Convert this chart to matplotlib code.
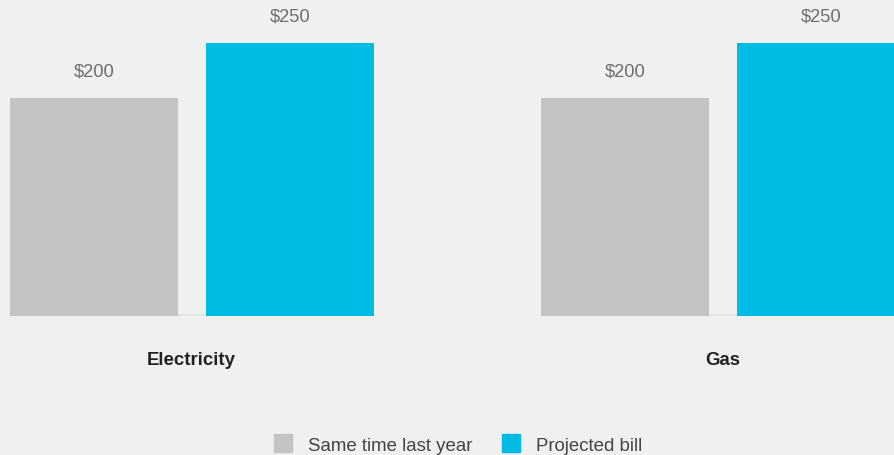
import matplotlib
matplotlib.use("Agg")
import matplotlib.pyplot as plt
from matplotlib.lines import Line2D
import numpy as np

categories = ["Electricity", "Gas"]
series_names = ["Same time last year", "Projected bill"]
last_year = [200, 200]
projected = [250, 250]
value_labels_last = ["$200", "$200"]
value_labels_proj = ["$250", "$250"]

bg = "#f0f0f0"
c_gray = "#c3c3c3"
c_cyan = "#00bbe3"

W, H = 895, 456
fig = plt.figure(figsize=(W / 100, H / 100), dpi=100, facecolor=bg)
plt.rcParams['font.family'] = ['Liberation Sans', 'DejaVu Sans']

base = 317
ax = fig.add_axes([0, 1 - base / H, 1, base / H])
ax.set_facecolor(bg)
for s in ax.spines.values():
    s.set_visible(False)
ax.set_xticks([])
ax.set_yticks([])

x = np.arange(len(categories))
w = 168 / 531
off = 0.1845
ax.bar(x - off, last_year, width=w, color=c_gray, zorder=2)
ax.bar(x + off, projected, width=w, color=c_cyan, zorder=2)

ax.set_xlim(-192.0 / 531, (895 - 192.0) / 531)
ax.set_ylim(0, base / 1.092)

px = 1 / 1.092
for i in range(len(categories)):
    ax.text(x[i] - off, last_year[i] + 27 * px, value_labels_last[i], ha="center", va="center",
            fontsize=13.2, color="#6e6e6e", clip_on=False)
    ax.text(x[i] + off, projected[i] + 27 * px, value_labels_proj[i], ha="center", va="center",
            fontsize=13.2, color="#6e6e6e", clip_on=False)
    ax.hlines(1.0 * px, x[i] - off - w / 2, x[i] + off + w / 2, color="#e2e2e2", lw=1.2, zorder=1)
    fig.text((191.5 + i * 531) / W, 1 - 361 / H, categories[i], ha="center", va="center",
             fontsize=13.4, fontweight="bold", color="#222222")

handles = [Line2D([], [], marker="s", linestyle="none", markersize=13.5, color=c_gray),
           Line2D([], [], marker="s", linestyle="none", markersize=13.5, color=c_cyan)]
fig.legend(handles, series_names, loc="center", bbox_to_anchor=(458 / W, 1 - 446.5 / H), ncol=2,
           frameon=False, fontsize=13.4, handlelength=1.0, handletextpad=0.85, columnspacing=1.6,
           labelcolor="#444444", borderpad=0, borderaxespad=0)

fig.savefig("out.png", dpi=100, facecolor=bg)
